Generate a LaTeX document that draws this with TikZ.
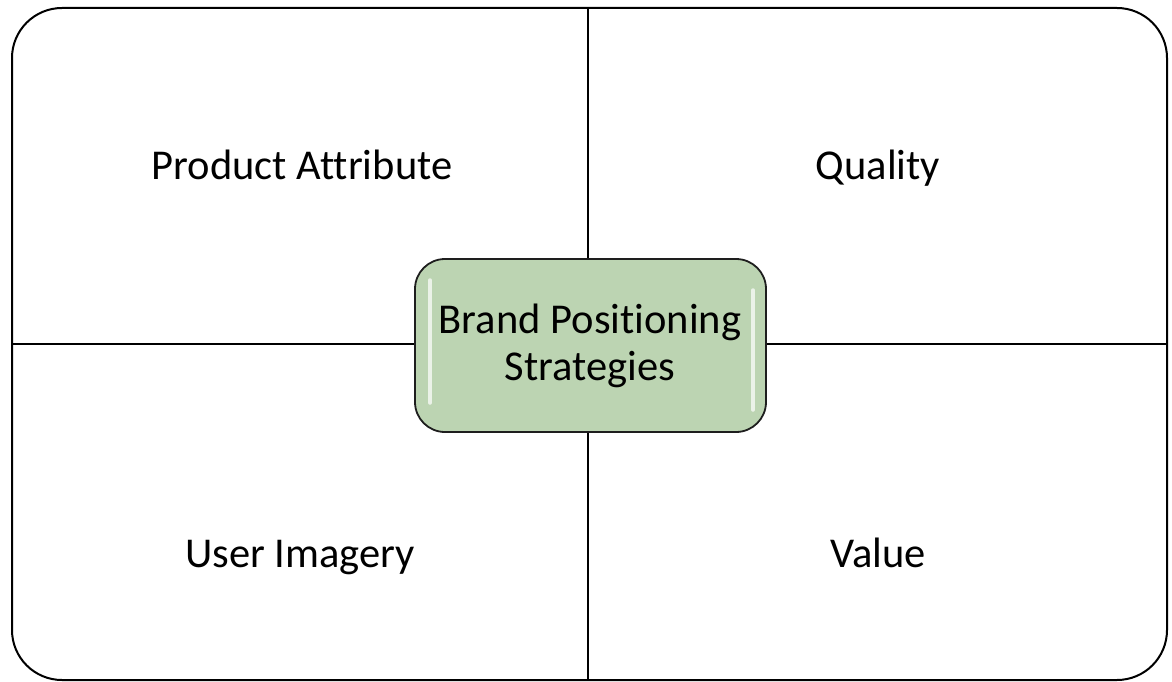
\documentclass[tikz,border=0pt]{standalone}
\usepackage{fontspec}
\setmainfont{Carlito}[Ligatures={NoCommon}]
\definecolor{boxgreen}{RGB}{188,212,178}
\definecolor{boxline}{RGB}{30,30,30}
\begin{document}
\begin{tikzpicture}[x=1pt,y=-1pt,
  lbl/.style={font=\fontsize{42.5}{50}\selectfont, inner sep=0pt, anchor=base}]
\useasboundingbox (0,0) rectangle (1172,682);
\draw[line width=2pt, rounded corners=50pt] (12,8) rectangle (1167,680);
\coordinate (top) at (588,8);
\coordinate (bot) at (588,680);
\coordinate (lft) at (12,344);
\coordinate (rgt) at (1167,344);
\draw[line width=1.5pt] (top) -- (bot);
\draw[line width=1.5pt] (lft) -- (rgt);
\draw[line width=1.8pt, draw=boxline, fill=boxgreen, rounded corners=30pt] (415,259) rectangle (766,432);
\draw[white, line width=3.5pt, line cap=round, opacity=0.7] (430,280) -- (430,403);
\draw[white, line width=3.5pt, line cap=round, opacity=0.7] (753,290) -- (753,410);
\node[lbl] (c1) at (590,333) {Brand Positioning};
\node[lbl] (c2) at (590,380) {Strategies};
\node[lbl] (pa) at (302,179) {Product Attribute};
\node[lbl] (q) at (878,179) {Quality};
\node[lbl] (ui) at (300,567) {User Imagery};
\node[lbl] (v) at (878,567) {Value};
\end{tikzpicture}
\end{document}
